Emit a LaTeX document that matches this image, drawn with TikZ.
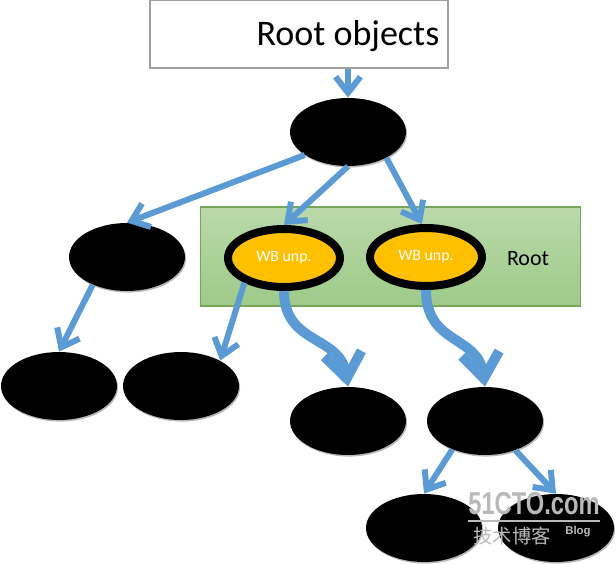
\documentclass[tikz,border=0pt]{standalone}
\usepackage{fontspec}
\setmainfont{Carlito}
\newfontfamily\markfont{Liberation Sans}
\newfontfamily\cjkfont{Noto Sans CJK SC}
\usetikzlibrary{arrows.meta,positioning,shapes.geometric,shadows}
\usepackage{xcolor}
\definecolor{refblue}   {RGB}{ 91,155,213}
\definecolor{wbyellow}  {RGB}{255,192,  0}
\definecolor{greentop}  {RGB}{186,217,170}
\definecolor{greenbot}  {RGB}{158,202,137}
\definecolor{greenline} {RGB}{118,166, 88}
\definecolor{boxline}   {RGB}{160,160,160}

\begin{document}
\begin{tikzpicture}[
    x=0.02cm, y=-0.02cm,
    obj/.style={ellipse, fill=black, minimum width=2.32cm, minimum height=1.36cm, inner sep=0pt,
        drop shadow={shadow xshift=0.6pt, shadow yshift=-0.9pt, fill=gray!70, opacity=0.8}},
    wb/.style={ellipse, draw=black, line width=0.16cm, fill=wbyellow, minimum width=2.24cm, minimum height=1.16cm,
        inner sep=0pt, text=white, font=\fontsize{9}{10}\selectfont},
    ref/.style={draw=refblue, line width=0.12cm, -{Straight Barb[length=0.32cm, width=0.5cm]}},
    bigref/.style={draw=refblue, line width=0.2cm, -{Straight Barb[length=0.5cm, width=0.75cm]}},
    wmark/.style={text=gray!55, inner sep=0pt}
]
    \useasboundingbox (0,0) rectangle (616,564);

    % root set and its box
    \node[draw=boxline, fill=white, line width=0.8pt, minimum width=5.96cm, minimum height=1.36cm] (rootbox) at (299,34) {};
    \node[font=\fontsize{20.5}{22}\selectfont] (rootlabel) at (348,36) {Root objects};
    \node[draw=greenline, line width=0.6pt, top color=greentop, bottom color=greenbot,
        minimum width=7.62cm, minimum height=1.98cm] (rootset) at (390.5,256.5) {};
    \node[font=\fontsize{12.5}{14}\selectfont] (rootname) at (528,259) {Root};

    % objects
    \node[obj] (top) at (348,132) {};
    \node[obj] (left) at (127,257) {};
    \node[wb] (wbl) at (284,258) {WB unp.};
    \node[wb] (wbr) at (426,257) {WB unp.};
    \node[obj] (ll) at (59,386) {};
    \node[obj] (lr) at (181,386) {};
    \node[obj] (mid) at (348,421) {};
    \node[obj] (right) at (485,421) {};
    \node[obj] (bl) at (424,528) {};
    \node[obj] (br) at (556,528) {};

    % references
    \draw[ref] (top.north |- rootbox.south) -- (top.north);
    \draw[ref] (top.208) -- (left.north);
    \draw[ref] (top.south) -- (wbl.north);
    \draw[ref] (top.326) -- (wbr.97);
    \draw[ref] (left.219) -- (ll.north);
    \draw[ref] (wbl.212) -- (lr.33);
    \draw[bigref] (wbl.south) .. controls (284,345) and (340,335) .. (mid.north);
    \draw[bigref] (wbr.south) .. controls (426,345) and (478,335) .. (right.north);
    \draw[ref] (right.221) -- (bl.north);
    \draw[ref] (right.316) -- (br.north);

    % watermark
    \node[wmark, font=\markfont\bfseries\fontsize{18}{18}\selectfont, xscale=0.75, transform shape] (wm) at (534,504) {51CTO.com};
    \draw[gray!55, line width=1.2pt] ([yshift=-3pt]wm.south west) -- ([yshift=-3pt]wm.south east);
    \node[wmark, font=\cjkfont\fontsize{11}{11}\selectfont] (wmcn) at (512,536) {技术博客};
    \node[wmark, font=\markfont\bfseries\fontsize{6.5}{7}\selectfont] (wmblog) at (578,532) {Blog};
\end{tikzpicture}
\end{document}
